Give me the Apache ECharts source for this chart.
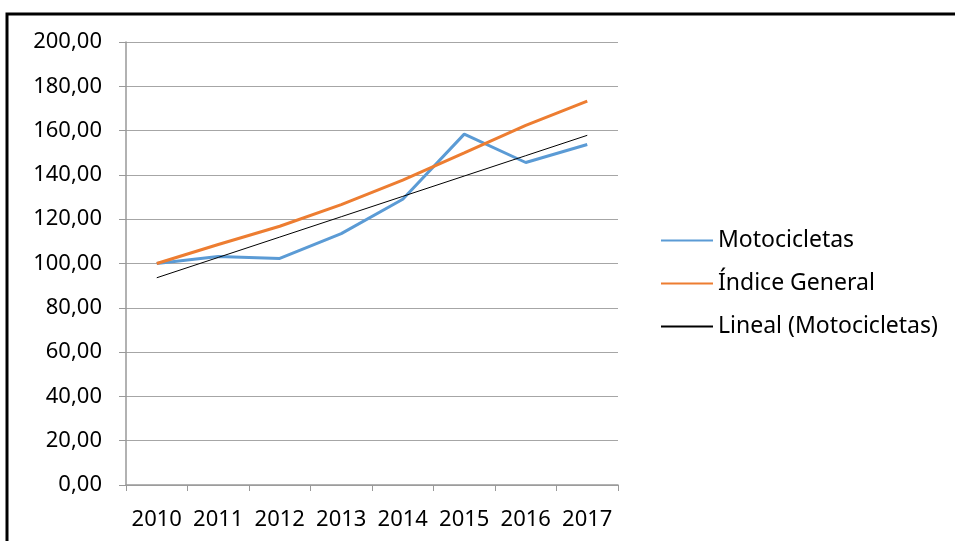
<!DOCTYPE html>
<html>
<head>
<meta charset="utf-8">
<script src="https://cdn.jsdelivr.net/npm/echarts@6/dist/echarts.min.js"></script>
<style>
  html, body { margin: 0; padding: 0; background: #fff; }
  #chart { width: 955px; height: 541px; }
</style>
</head>
<body>
<div id="chart"></div>
<script>
// categorías y valores
const years = ['2010', '2011', '2012', '2013', '2014', '2015', '2016', '2017'];
const motocicletas = [100.0, 103.2, 102.3, 113.5, 129.0, 158.4, 145.6, 153.7];
const indiceGeneral = [100.0, 108.6, 116.8, 126.6, 137.6, 149.9, 162.4, 173.3];

// línea de tendencia lineal (mínimos cuadrados sobre Motocicletas, como hace Excel)
const n = motocicletas.length;
const mx = (n + 1) / 2;
const my = motocicletas.reduce((a, b) => a + b, 0) / n;
let sxy = 0, sxx = 0;
motocicletas.forEach((v, i) => { sxy += (i + 1 - mx) * (v - my); sxx += (i + 1 - mx) * (i + 1 - mx); });
const slope = sxy / sxx;
const tendencia = motocicletas.map((v, i) => +(my + slope * (i + 1 - mx)).toFixed(2));

const font = 'Noto Sans';
const chart = echarts.init(document.getElementById('chart'));

chart.setOption({
  animation: false,
  textStyle: { fontFamily: font },
  graphic: [{
    type: 'rect',
    shape: { x: 7, y: 14, width: 960, height: 540 },
    style: { fill: 'none', stroke: '#000', lineWidth: 3 }
  }],
  grid: { left: 126, right: 337, top: 42, bottom: 56 },
  legend: {
    orient: 'vertical',
    left: 655,
    top: 224,
    itemWidth: 52,
    itemHeight: 14,
    itemGap: 20,
    itemStyle: { opacity: 0 },
    textStyle: { fontFamily: font, fontSize: 23, color: '#000' },
    data: ['Motocicletas', 'Índice General', 'Lineal (Motocicletas)']
  },
  xAxis: {
    type: 'category',
    data: years,
    boundaryGap: true,
    axisLine: { lineStyle: { color: '#999', width: 1.5 } },
    axisTick: { show: true, length: 6, lineStyle: { color: '#999' } },
    axisLabel: { color: '#000', fontSize: 22, margin: 24, interval: 0, hideOverlap: false }
  },
  yAxis: {
    type: 'value',
    min: 0,
    max: 200,
    interval: 20,
    axisLine: { show: true, lineStyle: { color: '#999', width: 1.5 } },
    axisTick: { show: true, length: 7, lineStyle: { color: '#999' } },
    splitLine: { lineStyle: { color: '#a6a6a6', width: 1 } },
    axisLabel: {
      color: '#000',
      fontSize: 22,
      margin: 24,
      formatter: v => v.toFixed(2).replace('.', ',')
    }
  },
  series: [
    {
      name: 'Motocicletas',
      type: 'line',
      data: motocicletas,
      symbol: 'none',
      lineStyle: { color: '#5b9bd5', width: 3 },
      itemStyle: { color: '#5b9bd5' }
    },
    {
      name: 'Índice General',
      type: 'line',
      data: indiceGeneral,
      symbol: 'none',
      lineStyle: { color: '#ed7d31', width: 3 },
      itemStyle: { color: '#ed7d31' }
    },
    {
      name: 'Lineal (Motocicletas)',
      type: 'line',
      data: tendencia,
      symbol: 'none',
      lineStyle: { color: '#000', width: 1 },
      itemStyle: { color: '#000' }
    }
  ]
});
</script>
</body>
</html>
